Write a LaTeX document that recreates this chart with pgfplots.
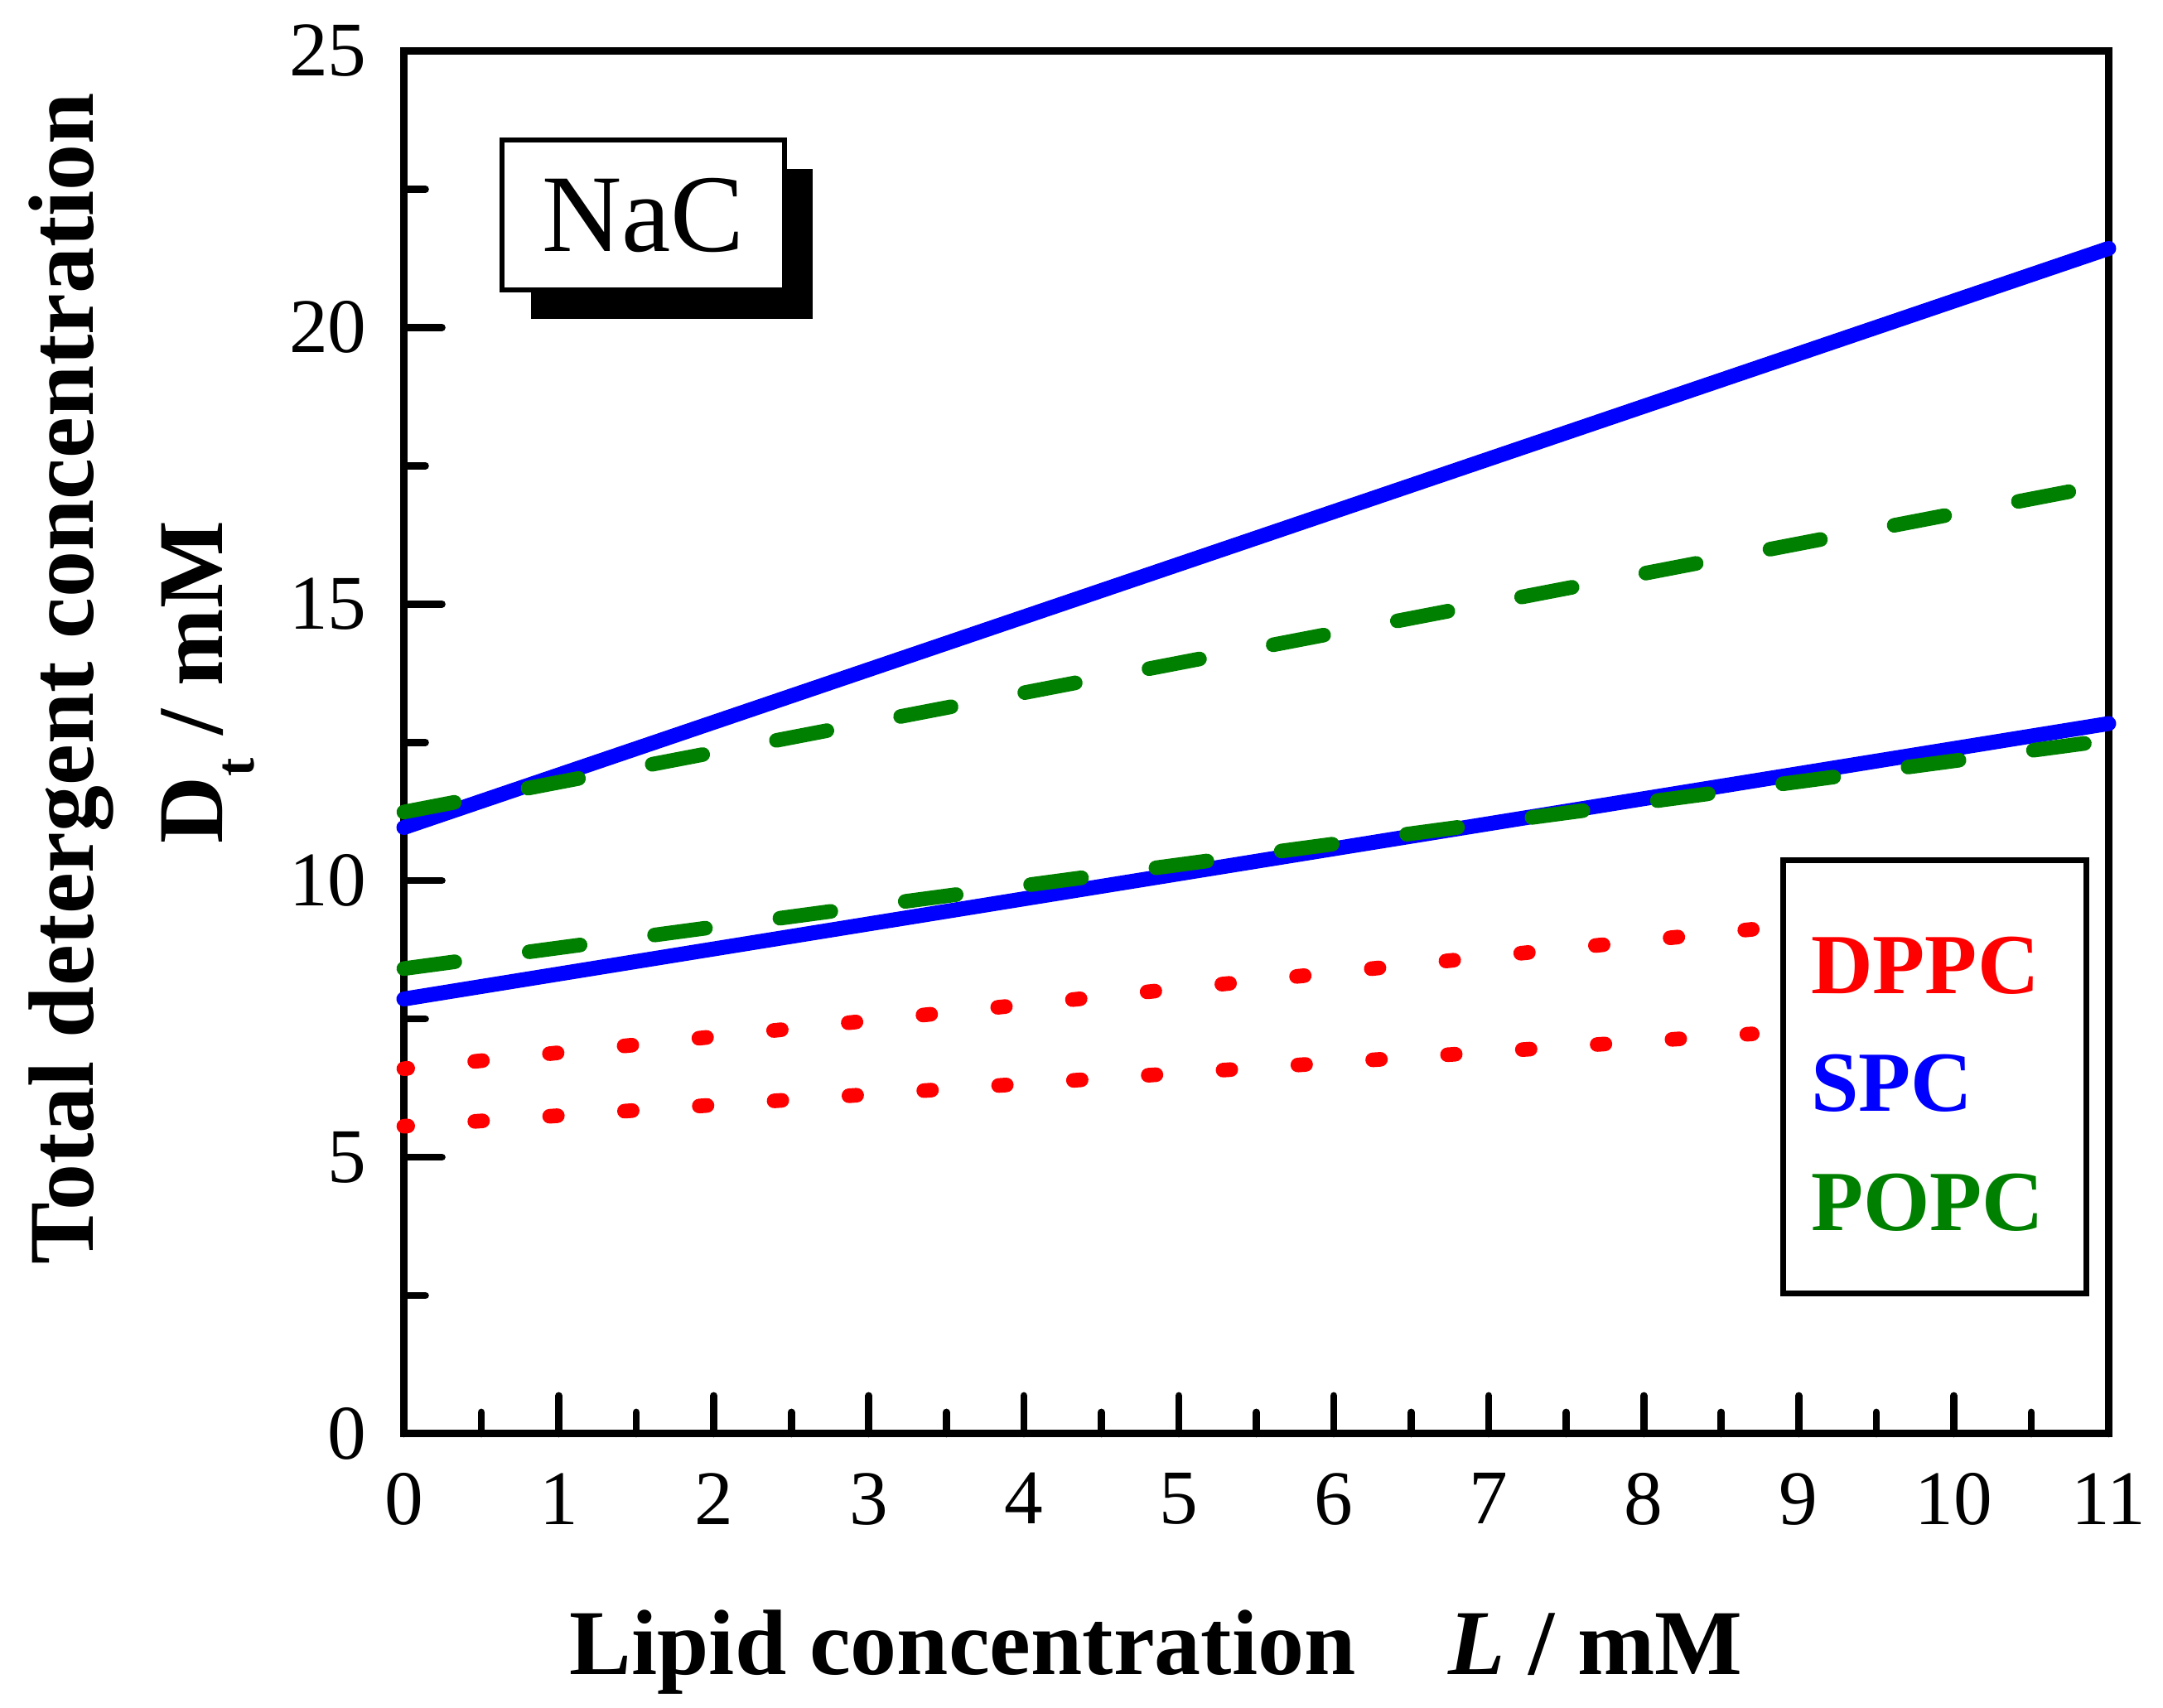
\documentclass[border=0pt]{standalone}
\usepackage{fontspec}
\setmainfont{Liberation Serif}
\usepackage{pgfplots}
\pgfplotsset{compat=1.18}
\usetikzlibrary{shadows}
\definecolor{myblue}{RGB}{0,0,255}
\definecolor{myred}{RGB}{255,0,0}
\definecolor{mygreen}{RGB}{0,128,0}
\begin{document}
\begin{tikzpicture}
\path[use as bounding box] (-73.125pt,-49.65pt) rectangle (318.525pt,259.65pt);
\begin{axis}[
  at={(0,0)}, anchor=south west,
  scale only axis, width=308.7pt, height=250.425pt,
  xmin=0, xmax=11, ymin=0, ymax=25,
  xtick={0,1,...,11}, ytick={0,5,...,25},
  minor xtick={0.5,1.5,...,10.5}, minor ytick={2.5,7.5,...,22.5},
  tick align=inside, tick pos=left,
  major tick length=6.9pt, minor tick length=3.9pt,
  axis line style={line width=1.35pt},
  every tick/.style={black, line width=1.3pt, line cap=round},
  /pgf/number format/assume math mode=true,
  tick label style={font=\fontsize{14pt}{16pt}\selectfont},
  xticklabel style={yshift=-3.6pt},
  yticklabel style={xshift=-3.2pt},
  clip=false,
]
\addplot[myblue, line width=2.7pt, line cap=round] coordinates {(0,10.96) (11,21.43)};
\addplot[myblue, line width=2.7pt, line cap=round] coordinates {(0,7.86) (11,12.84)};
\addplot[mygreen, line width=2.65pt, line cap=round, dash pattern=on 9.3pt off 13.6pt] coordinates {(0,11.24) (11,17.17)};
\addplot[mygreen, line width=2.65pt, line cap=round, dash pattern=on 9.3pt off 13.6pt] coordinates {(0,8.41) (11,12.54)};
\addplot[myred, line width=2.65pt, line cap=round, dash pattern=on 1.4pt off 12.2pt, dash phase=0.7pt] coordinates {(0,6.60) (8.70,9.12)};
\addplot[myred, line width=2.65pt, line cap=round, dash pattern=on 1.4pt off 12.18pt, dash phase=0.7pt] coordinates {(0,5.56) (8.70,7.23)};
\end{axis}
% text boxes, positioned relative to the axis origin (pt)
\node[draw=black, line width=0.87pt, fill=white, minimum width=51.1pt, minimum height=27.2pt, inner sep=0pt,
  drop shadow={shadow xshift=5.2pt, shadow yshift=-5.2pt, fill=black, opacity=1},
  font=\fontsize{20pt}{24pt}\selectfont] at (43.35pt,220.7pt) {NaC};
\draw[line width=1.05pt] (249.7pt,25.35pt) rectangle (304.6pt,103.8pt);
\node[anchor=base west, inner sep=0pt, text=myred, font=\fontsize{15.5pt}{18pt}\selectfont\bfseries] at (254.6pt,79.65pt) {DPPC};
\node[anchor=base west, inner sep=0pt, text=myblue, font=\fontsize{15.5pt}{18pt}\selectfont\bfseries] at (254.6pt,58.35pt) {SPC};
\node[anchor=base west, inner sep=0pt, text=mygreen, font=\fontsize{15.5pt}{18pt}\selectfont\bfseries] at (254.6pt,36.75pt) {POPC};
\node[anchor=base, inner sep=0pt, font=\fontsize{16.8pt}{20pt}\selectfont\bfseries] at (136.2pt,-43.65pt) {Lipid concentration\quad\textit{L} / mM};
\node[anchor=base, rotate=90, inner sep=0pt, font=\fontsize{16.8pt}{20pt}\selectfont\bfseries] at (-56.2pt,136.8pt) {Total detergent concentration};
\node[anchor=base, rotate=90, inner sep=0pt, font=\fontsize{16.8pt}{20pt}\selectfont\bfseries] at (-32.9pt,136.1pt) {D\raisebox{-5.7pt}{\fontsize{10pt}{11pt}\selectfont t} / mM};
\end{tikzpicture}
\end{document}
